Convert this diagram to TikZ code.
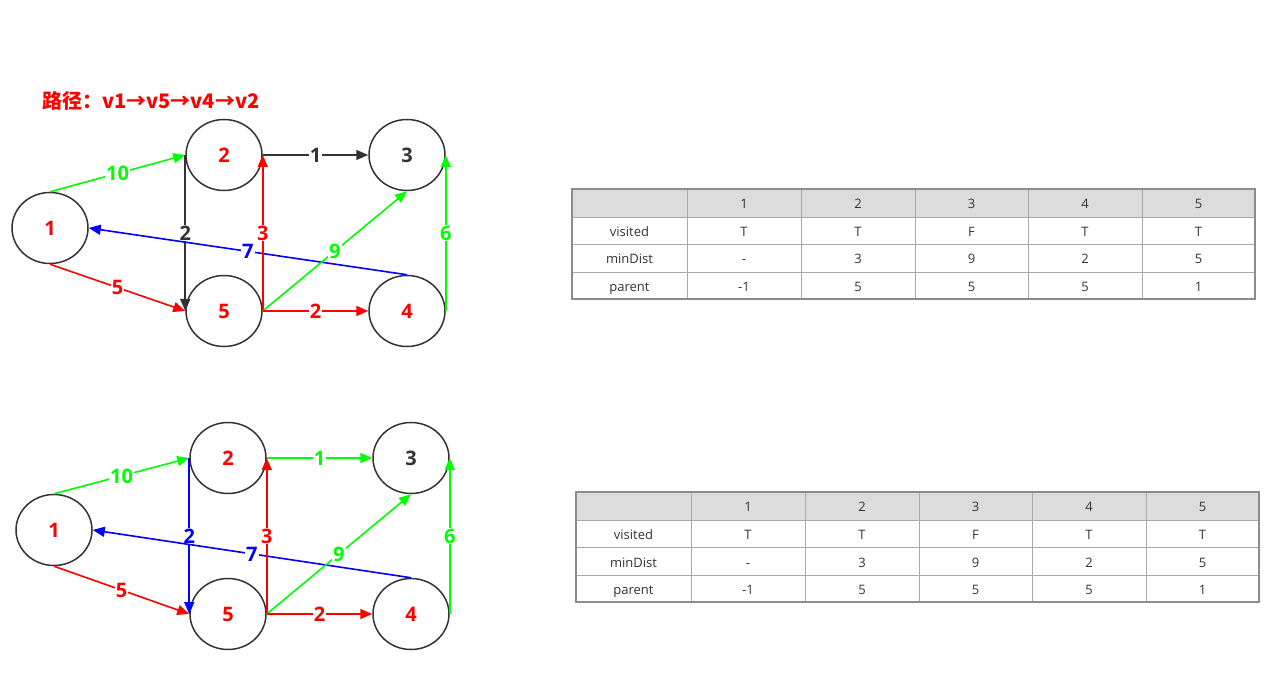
\documentclass[tikz,border=0pt]{standalone}
\usepackage{fontspec}
\setmainfont{Open Sans}
\newfontfamily\cjk{Noto Sans CJK SC}
\usetikzlibrary{shapes.geometric,arrows.meta}
\definecolor{gr}{HTML}{00FF00}
\definecolor{rd}{HTML}{FF0000}
\definecolor{bl}{HTML}{0000FF}
\definecolor{dk}{HTML}{333333}
\definecolor{hdr}{HTML}{DCDCDC}
\definecolor{tline}{HTML}{A8A8A8}
\definecolor{tborder}{HTML}{8C8C8C}
\definecolor{ttext}{HTML}{333333}
\newcommand\mytable[3]{%
\begin{scope}[shift={(#1,#2)}]
\fill[hdr] (0,0) rectangle (683,28);
\foreach \x in {115,229,343,456,570} \draw[tline,line width=0.8pt] (\x,0) -- (\x,110);
\foreach \y in {28,55,83} \draw[tline,line width=0.8pt] (0,\y) -- (683,\y);
\draw[tborder,line width=1.6pt] (0,0) rectangle (683,110);
\foreach \x/\t [count=\c] in {172/1,286/2,399.5/3,513/4,626.5/5}
  \node[cell] (#3h\c) at (\x,19.5) {\t};
\foreach \x/\t [count=\c] in {57.5/visited,172/T,286/T,399.5/F,513/T,626.5/T}
  \node[cell] (#3v\c) at (\x,47.5) {\t};
\foreach \x/\t [count=\c] in {57.5/minDist,172/-,286/3,399.5/9,513/2,626.5/5}
  \node[cell] (#3m\c) at (\x,75) {\t};
\foreach \x/\t [count=\c] in {57.5/parent,172/-1,286/5,399.5/5,513/5,626.5/1}
  \node[cell] (#3p\c) at (\x,102.5) {\t};
\end{scope}}
\begin{document}
\begin{tikzpicture}[x=1pt,y=-1pt,
 vert/.style={ellipse,draw=dk,line width=1.5pt,minimum width=76pt,minimum height=71pt,inner sep=0pt,font=\fontsize{20}{20}\selectfont\bfseries},
 edge/.style={line width=1.6pt,-{Triangle[length=12pt,width=10pt]}},
 wlab/.style={fill=white,inner sep=1pt,font=\fontsize{20}{20}\selectfont\bfseries},
 cell/.style={font=\fontsize{13}{13}\selectfont,text=ttext,inner sep=0pt,anchor=base}]
\useasboundingbox (0,0) rectangle (1276,692);
\fill[white] (0,0) rectangle (1276,692);

\node[anchor=west,text=rd,inner sep=0pt,font=\cjk\bfseries\fontsize{20}{20}\selectfont] (title) at (42,101) {路径：v1→v5→v4→v2};

% top graph
\node[vert,text=rd] (a1) at (50,228) {1};
\node[vert,text=rd] (a2) at (224,155) {2};
\node[vert,text=dk] (a3) at (407,155) {3};
\node[vert,text=rd] (a5) at (224,311) {5};
\node[vert,text=rd] (a4) at (407,311) {4};
\draw[edge,gr] (a1.north) -- node[wlab,text=gr]{10} (a2.west);
\draw[edge,dk] (a2.east) -- node[wlab,text=dk]{1} (a3.west);
\draw[edge,dk] (a2.west) -- node[wlab,text=dk]{2} (a5.west);
\draw[edge,rd] (a1.south) -- node[wlab,text=rd]{5} (a5.west);
\draw[edge,bl] (a4.north) -- node[wlab,text=bl]{7} (a1.east);
\draw[edge,rd] (a5.east) -- node[wlab,text=rd]{3} (a2.east);
\draw[edge,gr] (a5.east) -- node[wlab,text=gr]{9} (a3.south);
\draw[edge,rd] (a5.east) -- node[wlab,text=rd]{2} (a4.west);
\draw[edge,gr] (a4.east) -- node[wlab,text=gr]{6} (a3.east);

% bottom graph
\node[vert,text=rd] (b1) at (54,530) {1};
\node[vert,text=rd] (b2) at (228,458) {2};
\node[vert,text=dk] (b3) at (411,458) {3};
\node[vert,text=rd] (b5) at (228,614) {5};
\node[vert,text=rd] (b4) at (411,614) {4};
\draw[edge,gr] (b1.north) -- node[wlab,text=gr]{10} (b2.west);
\draw[edge,gr] (b2.east) -- node[wlab,text=gr]{1} (b3.west);
\draw[edge,bl] (b2.west) -- node[wlab,text=bl]{2} (b5.west);
\draw[edge,rd] (b1.south) -- node[wlab,text=rd]{5} (b5.west);
\draw[edge,bl] (b4.north) -- node[wlab,text=bl]{7} (b1.east);
\draw[edge,rd] (b5.east) -- node[wlab,text=rd]{3} (b2.east);
\draw[edge,gr] (b5.east) -- node[wlab,text=gr]{9} (b3.south);
\draw[edge,rd] (b5.east) -- node[wlab,text=rd]{2} (b4.west);
\draw[edge,gr] (b4.east) -- node[wlab,text=gr]{6} (b3.east);

\mytable{572}{189}{t}
\mytable{576}{492}{u}
\end{tikzpicture}
\end{document}
